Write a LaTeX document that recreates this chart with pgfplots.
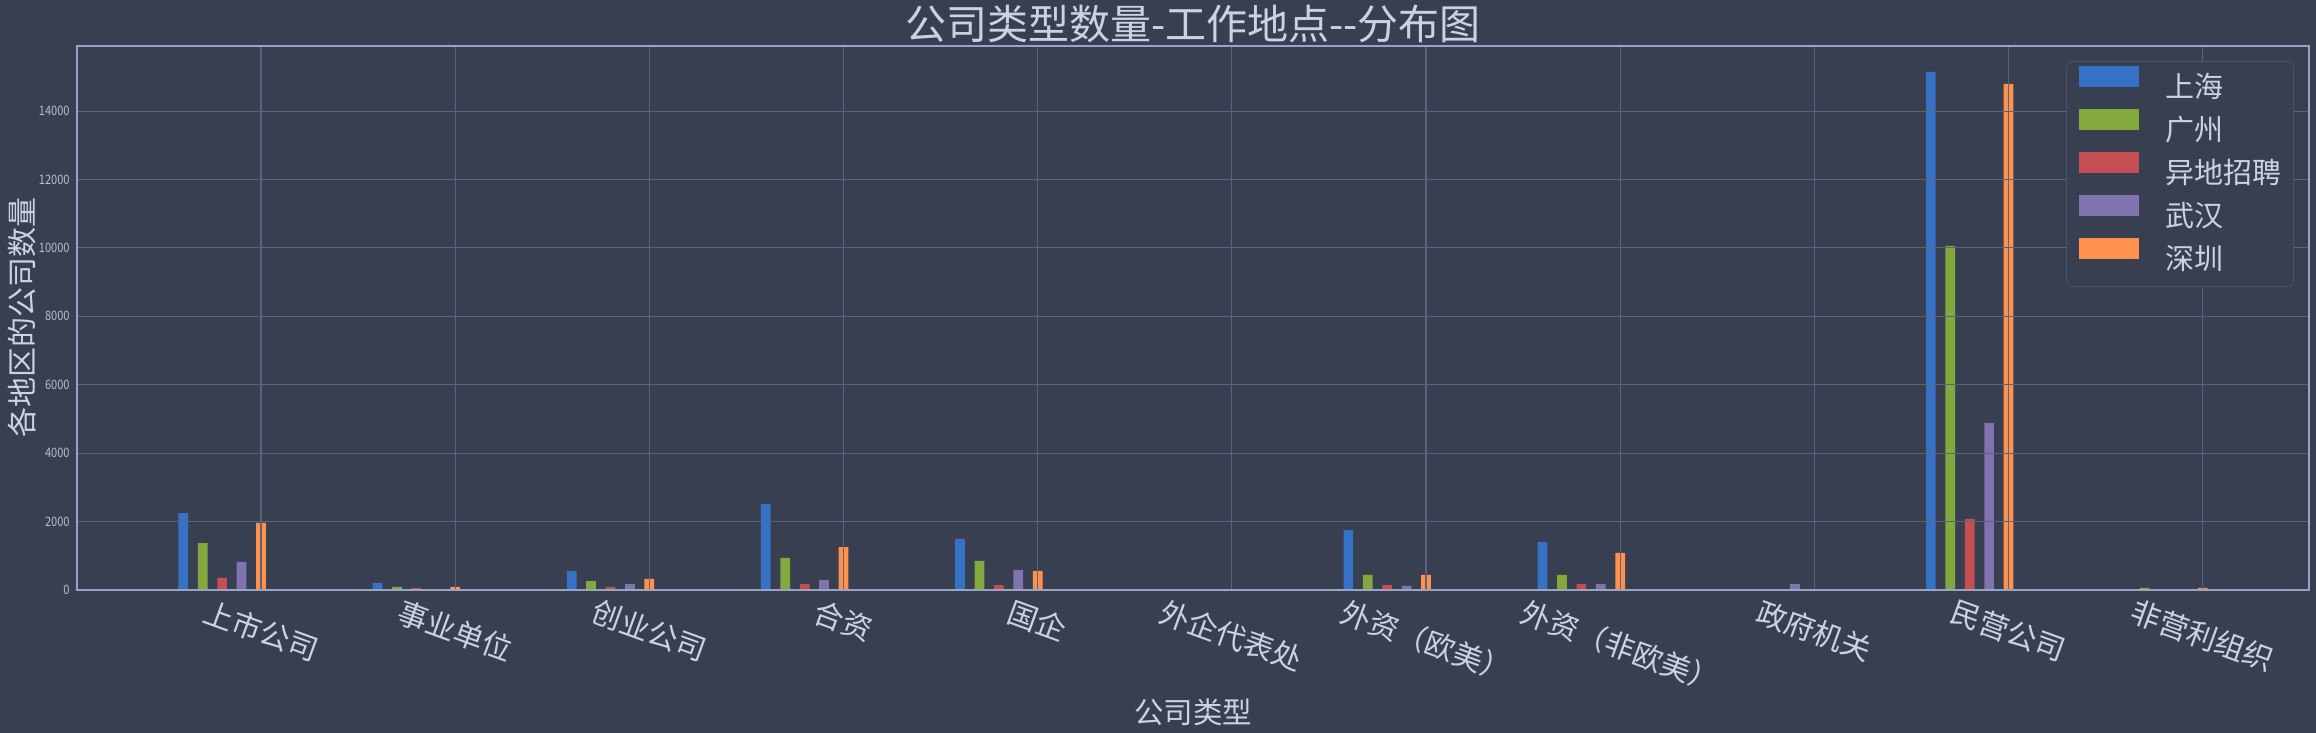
\documentclass[border=0pt]{standalone}
\usepackage{fontspec}
\usepackage{graphicx}
\usepackage{pgfplots}
\usepackage{pgfplotstable}
\pgfplotsset{compat=1.18}
\setmainfont{Noto Sans CJK SC}
\newfontfamily\tickfont[FakeStretch=0.85]{Noto Sans CJK SC}
\definecolor{bgc}{HTML}{383F50}
\definecolor{gridc}{HTML}{5A6478}
\definecolor{spine}{HTML}{98A4C2}
\definecolor{txt}{HTML}{CDD1E4}
\definecolor{ticktxt}{HTML}{B8BECF}
\definecolor{legb}{HTML}{4A5266}
\definecolor{c1}{HTML}{3572C6}
\definecolor{c2}{HTML}{83A83B}
\definecolor{c3}{HTML}{C44E52}
\definecolor{c4}{HTML}{8173B0}
\definecolor{c5}{HTML}{FF914D}
\newcommand\rl[1]{\rotatebox{-20}{#1}}
\pgfplotstableread{
x sh gz yd wh sz
0 2251 1374 351 819 1959
1 205 88 58 29 88
2 556 263 88 175 322
3 2515 936 175 292 1257
4 1491 848 146 585 556
5 29 0 0 29 29
6 1754 439 146 117 439
7 1404 439 175 175 1082
8 0 0 0 175 0
9 15146 10058 2076 4883 14795
10 29 59 29 29 59
}\datatable
\begin{document}
\begin{tikzpicture}
\fill[bgc] (-38.5bp,-71.5bp) rectangle (1119.5bp,295bp);
\begin{axis}[
  at={(0,0)}, anchor=south west,
  scale only axis, width=1116bp, height=272bp,
  xmin=-0.9475, xmax=10.5475, ymin=0, ymax=15903,
  xtick={0,1,2,3,4,5,6,7,8,9,10},
  xticklabels={\rl{上市公司},\rl{事业单位},\rl{创业公司},\rl{合资},\rl{国企},\rl{外企代表处},\rl{外资（欧美）},\rl{外资（非欧美）},\rl{政府机关},\rl{民营公司},\rl{非营利组织}},
  ytick={0,2000,4000,6000,8000,10000,12000,14000},
  scaled y ticks=false,
  yticklabel={\pgfmathprintnumber[fixed,precision=0,1000 sep={}]{\tick}},
  /pgf/number format/assume math mode=true,
  /pgf/number format/1000 sep={},
  grid=major, major grid style={gridc, line width=0.55bp},
  axis line style={spine, line width=0.7bp},
  major tick length=0pt,
  axis on top,
  axis background/.style={fill=bgc},
  xticklabel style={anchor=north, inner sep=0pt, yshift=-3.5bp, text=txt, font=\fontsize{14.9bp}{17bp}\selectfont},
  yticklabel style={anchor=east, inner sep=0pt, xshift=-3.5bp, text=ticktxt, font=\tickfont\fontsize{6.5bp}{8bp}\selectfont},
  title={公司类型数量-工作地点-{}-分布图},
  title style={at={(axis description cs:0.5,1)}, anchor=center, yshift=5bp, text=txt, font=\fontsize{20.5bp}{24bp}\selectfont},
  xlabel={公司类型},
  xlabel style={at={(axis description cs:0.5,0)}, anchor=center, yshift=-61bp, text=txt, font=\fontsize{14.75bp}{18bp}\selectfont},
  ylabel={各地区的公司数量},
  ylabel style={at={(axis description cs:-0.0247,0.5)}, anchor=center, rotate=0, text=txt, font=\fontsize{15bp}{18bp}\selectfont},
  legend cell align=left,
  legend style={at={(1,1)}, anchor=north east, xshift=-7.5bp, yshift=-7.5bp,
    draw=legb, fill=bgc, rounded corners=3bp, inner xsep=6bp, inner ysep=2.5bp,
    font=\fontsize{14.5bp}{17bp}\selectfont, text=txt, row sep=0pt,
    nodes={inner sep=0pt, text height=15.75bp, text depth=5.75bp},
    /tikz/every odd column/.append style={column sep=13.5bp}},
  legend image code/.code={\fill[#1, sharp corners] (0bp,0.25bp) rectangle (30bp,10.75bp);},
]
\addplot[ybar, bar width=0.05, bar shift=-0.4, fill=c1, draw=none] table[x=x,y=sh] {\datatable};
\addplot[ybar, bar width=0.05, bar shift=-0.3, fill=c2, draw=none] table[x=x,y=gz] {\datatable};
\addplot[ybar, bar width=0.05, bar shift=-0.2, fill=c3, draw=none] table[x=x,y=yd] {\datatable};
\addplot[ybar, bar width=0.05, bar shift=-0.1, fill=c4, draw=none] table[x=x,y=wh] {\datatable};
\addplot[ybar, bar width=0.05, bar shift=0, fill=c5, draw=none] table[x=x,y=sz] {\datatable};
\legend{上海,广州,异地招聘,武汉,深圳}
\end{axis}
\pgfresetboundingbox
\path (-38.5bp,-71.5bp) rectangle (1119.5bp,295bp);
\end{tikzpicture}
\end{document}
